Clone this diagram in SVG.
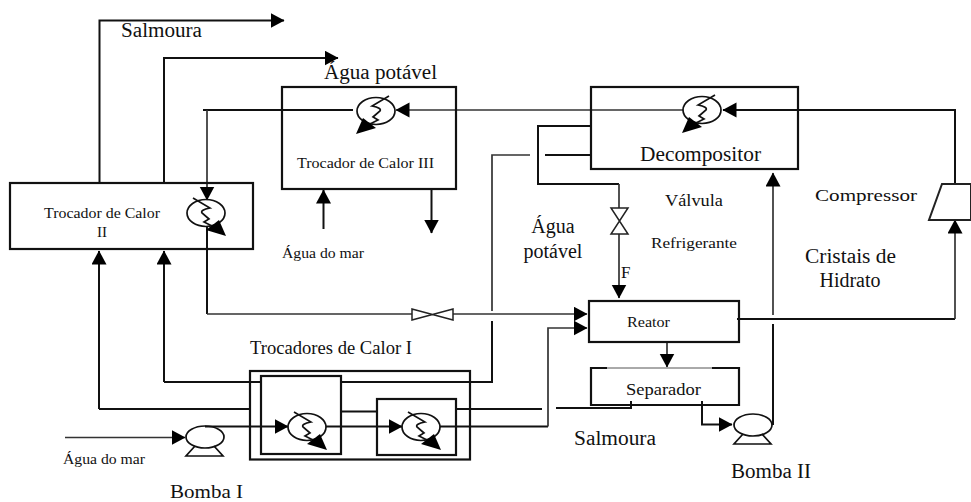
<svg xmlns="http://www.w3.org/2000/svg" width="971" height="502" viewBox="0 0 971 502">
<style>
.box{fill:none;stroke:#111;stroke-width:2.2}
.c{fill:none;stroke:#111;stroke-width:2;marker-end:none}
.a{marker-end:url(#arr)}
.g{stroke:#333;stroke-width:1.7}
.sym{fill:none;stroke:#111;stroke-width:1.7}
text{font-family:"Liberation Serif","Times New Roman",serif;fill:#111}
</style>
<defs>
<marker id="arr" markerUnits="userSpaceOnUse" markerWidth="15" markerHeight="16" refX="13.5" refY="7.5" orient="auto"><path d="M0 0L14 7.5L0 15Z" fill="#000"/></marker>
<g id="hx"><ellipse class="sym" rx="19" ry="13.5"/><path class="sym" d="M13-15L-4-5Q6-3 4 0L-3 6L2 9L-10 15"/><path d="M-20 23L-13 7L0 17Z" fill="#000"/></g>
<g id="hxm"><use href="#hx" transform="scale(-1,1)"/></g>
<g id="pump"><ellipse class="sym" rx="19" ry="11"/><path class="sym" d="M-10 9L-19 19H18L9 9"/></g>
</defs>
<rect width="971" height="502" fill="#fff"/>
<g id="connectors">
<path class="c a" d="M99.500 183V20.500H284"/>
<path class="c a" d="M164 183V58H338"/>
<path class="c a" d="M955 184V110H723"/>
<path class="c" d="M353 110H203"/>
<path class="c g a" d="M207 110V200"/>
<path class="c" d="M207 226V314"/>
<path class="c g" d="M207 314H412M453 314H500"/>
<path class="c g a" d="M500 314H587"/>
<path class="c g a" d="M683 110H396"/>
<path class="c a" d="M323.500 229V190"/>
<path class="c a" d="M431.500 189V233"/>
<path class="c" d="M591 126H538V184H619"/>
<path class="c g" d="M619 184V208"/>
<path class="c g a" d="M619 234V298"/>
<path class="c" d="M591 155H545"/>
<path class="c g" d="M530 155H492V311"/>
<path class="c" d="M492 321V382H341"/>
<path class="c" d="M261 382H164"/>
<path class="c a" d="M164 382V251"/>
<path class="c a" d="M99 409V251"/>
<path class="c" d="M99 409H250"/>
<path class="c" d="M341 411.500H377"/>
<path class="c g a" d="M65 437.500H185"/>
<path class="c a" d="M205 426.500H288"/>
<path class="c a" d="M326 426.500H402"/>
<path class="c" d="M440 426.500H548"/>
<path class="c g a" d="M548 426.500V328H587"/>
<path class="c" d="M456 409H542M556 408H631V401"/>
<path class="c g a" d="M667 342V367"/>
<path class="c a" d="M702 401V424.500H732"/>
<path class="c" d="M773 425V324"/>
<path class="c g a" d="M773 315V173"/>
<path class="c" d="M737 319H955"/>
<path class="c g a" d="M955 319V220"/>
</g>
<g id="trocador-ii">
<rect class="box" x="10" y="183" width="243" height="66"/>
<use href="#hxm" transform="translate(206,213)"/>
<text x="44" y="218" font-size="15" textLength="116" lengthAdjust="spacingAndGlyphs">Trocador de Calor</text>
<text x="102" y="237" font-size="15" text-anchor="middle">II</text>
</g>
<g id="trocador-iii">
<rect class="box" x="282" y="87" width="174" height="102"/>
<use href="#hx" x="376" y="111"/>
<text x="297" y="168" font-size="15" textLength="137" lengthAdjust="spacingAndGlyphs">Trocador de Calor III</text>
</g>
<g id="decompositor">
<rect class="box" x="591" y="87" width="207" height="82"/>
<use href="#hx" x="702" y="110"/>
<text x="640" y="161" font-size="20" textLength="121" lengthAdjust="spacingAndGlyphs">Decompositor</text>
</g>
<g id="compressor">
<path d="M942 184H971V220H929Z" fill="none" stroke="#222" stroke-width="2"/>
<text x="815" y="201" font-size="17" textLength="102" lengthAdjust="spacingAndGlyphs" fill="#223">Compressor</text>
</g>
<g id="valvula-refrigerante">
<path d="M611 208H628L611 234H628Z" fill="none" stroke="#222" stroke-width="1.500"/>
<text x="665" y="206" font-size="17" textLength="58" lengthAdjust="spacingAndGlyphs">Válvula</text>
<text x="651" y="248" font-size="15" textLength="86" lengthAdjust="spacingAndGlyphs">Refrigerante</text>
</g>
<g id="valvula-reator">
<path d="M412 309V320L453 309V320Z" fill="none" stroke="#222" stroke-width="1.500"/>
</g>
<g id="reator">
<rect class="box" x="589" y="301" width="150" height="41"/>
<text x="627" y="327" font-size="14" textLength="43" lengthAdjust="spacingAndGlyphs">Reator</text>
</g>
<g id="separador">
<path class="box" d="M607 368H591V405H739V368H712"/>
<path d="M607 368H712" stroke="#555" stroke-width="1" fill="none"/>
<text x="626" y="395" font-size="17" textLength="75" lengthAdjust="spacingAndGlyphs">Separador</text>
</g>
<g id="trocadores-i">
<rect class="box" x="250" y="371" width="220" height="88.500"/>
<rect class="box" x="261" y="376" width="80" height="78"/>
<rect class="box" x="377" y="399" width="79" height="56"/>
<use href="#hxm" transform="translate(307,427)"/>
<use href="#hxm" transform="translate(421,427)"/>
<text x="250" y="354" font-size="18" textLength="162" lengthAdjust="spacingAndGlyphs">Trocadores de Calor I</text>
</g>
<g id="bomba-i">
<use href="#pump" x="205" y="437"/>
<text x="170" y="498" font-size="19" textLength="73" lengthAdjust="spacingAndGlyphs">Bomba I</text>
</g>
<g id="bomba-ii">
<use href="#pump" x="753" y="425"/>
<text x="731" y="478" font-size="20" textLength="80" lengthAdjust="spacingAndGlyphs">Bomba II</text>
</g>
<g id="labels">
<text x="121" y="37" font-size="20" textLength="81" lengthAdjust="spacingAndGlyphs">Salmoura</text>
<text x="324" y="79" font-size="20" textLength="113" lengthAdjust="spacingAndGlyphs">Água potável</text>
<text x="282" y="258" font-size="15" textLength="82" lengthAdjust="spacingAndGlyphs">Água do mar</text>
<text x="63" y="464" font-size="15" textLength="82" lengthAdjust="spacingAndGlyphs">Água do mar</text>
<text x="553" y="233" font-size="20" text-anchor="middle">Água</text>
<text x="553" y="258" font-size="20" text-anchor="middle">potável</text>
<text x="621" y="278" font-size="17" fill="#135">F</text>
<text x="805" y="263" font-size="20" textLength="91" lengthAdjust="spacingAndGlyphs">Cristais de</text>
<text x="850" y="287" font-size="20" text-anchor="middle">Hidrato</text>
<text x="574" y="445" font-size="20" textLength="82" lengthAdjust="spacingAndGlyphs">Salmoura</text>
</g>
</svg>
